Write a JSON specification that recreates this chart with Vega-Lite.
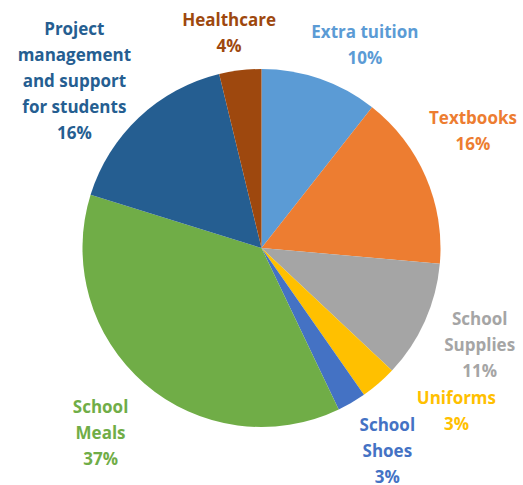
{
  "$schema": "https://vega.github.io/schema/vega-lite/v6.json",
  "autosize": "none",
  "width": 523,
  "height": 474,
  "padding": {"top": 11, "bottom": 0, "left": 0, "right": 0},
  "background": "white",
  "view": {"stroke": null},
  "data": {
    "values": [
      {"idx": 1, "category": "Extra tuition", "value": 10.6, "label": "Extra tuition\n10%"},
      {"idx": 2, "category": "Textbooks", "value": 15.8, "label": "Textbooks\n16%"},
      {"idx": 3, "category": "School Supplies", "value": 10.6, "label": "School\nSupplies\n11%"},
      {"idx": 4, "category": "Uniforms", "value": 3.3, "label": "Uniforms\n3%"},
      {"idx": 5, "category": "School Shoes", "value": 2.6, "label": "School\nShoes\n3%"},
      {"idx": 6, "category": "School Meals", "value": 36.9, "label": "School\nMeals\n37%"},
      {"idx": 7, "category": "Project management and support for students", "value": 16.4, "label": "Project\nmanagement\nand support\nfor students\n16%"},
      {"idx": 8, "category": "Healthcare", "value": 3.8, "label": "Healthcare\n4%"}
    ]
  },
  "encoding": {
    "theta": {"field": "value", "type": "quantitative", "stack": true},
    "order": {"field": "idx", "type": "quantitative"},
    "color": {
      "field": "category",
      "type": "nominal",
      "legend": null,
      "scale": {
        "domain": ["Extra tuition", "Textbooks", "School Supplies", "Uniforms", "School Shoes", "School Meals", "Project management and support for students", "Healthcare"],
        "range": ["#5B9BD5", "#ED7D31", "#A5A5A5", "#FFC000", "#4472C4", "#70AD47", "#255E91", "#9E480E"]
      }
    }
  },
  "layer": [
    {"mark": {"type": "arc", "radius": 179, "strokeWidth": 0}},
    {
      "mark": {"type": "text", "radius": 227, "thetaOffset": 0.14, "dy": -13, "font": "Open Sans", "fontWeight": "bold", "fontSize": 17, "lineBreak": "\n", "lineHeight": 26, "align": "center", "baseline": "middle"},
      "encoding": {"text": {"condition": {"test": "datum.idx === 1", "field": "label"}, "value": ""}}
    },
    {
      "mark": {"type": "text", "radius": 241, "thetaOffset": -0.092, "dy": -13, "font": "Open Sans", "fontWeight": "bold", "fontSize": 17, "lineBreak": "\n", "lineHeight": 26, "align": "center", "baseline": "middle"},
      "encoding": {"text": {"condition": {"test": "datum.idx === 2", "field": "label"}, "value": ""}}
    },
    {
      "mark": {"type": "text", "radius": 239, "dy": -26, "font": "Open Sans", "fontWeight": "bold", "fontSize": 17, "lineBreak": "\n", "lineHeight": 26, "align": "center", "baseline": "middle"},
      "encoding": {"text": {"condition": {"test": "datum.idx === 3", "field": "label"}, "value": ""}}
    },
    {
      "mark": {"type": "text", "radius": 255, "thetaOffset": -0.157, "dy": -13, "font": "Open Sans", "fontWeight": "bold", "fontSize": 17, "lineBreak": "\n", "lineHeight": 26, "align": "center", "baseline": "middle"},
      "encoding": {"text": {"condition": {"test": "datum.idx === 4", "field": "label"}, "value": ""}}
    },
    {
      "mark": {"type": "text", "radius": 240, "thetaOffset": -0.024, "dy": -26, "font": "Open Sans", "fontWeight": "bold", "fontSize": 17, "lineBreak": "\n", "lineHeight": 26, "align": "center", "baseline": "middle"},
      "encoding": {"text": {"condition": {"test": "datum.idx === 5", "field": "label"}, "value": ""}}
    },
    {
      "mark": {"type": "text", "radius": 246, "dy": -26, "font": "Open Sans", "fontWeight": "bold", "fontSize": 17, "lineBreak": "\n", "lineHeight": 26, "align": "center", "baseline": "middle"},
      "encoding": {"text": {"condition": {"test": "datum.idx === 6", "field": "label"}, "value": ""}}
    },
    {
      "mark": {"type": "text", "radius": 250, "thetaOffset": -0.092, "dy": -52, "font": "Open Sans", "fontWeight": "bold", "fontSize": 17, "lineBreak": "\n", "lineHeight": 26, "align": "center", "baseline": "middle"},
      "encoding": {"text": {"condition": {"test": "datum.idx === 7", "field": "label"}, "value": ""}}
    },
    {
      "mark": {"type": "text", "radius": 216, "thetaOffset": -0.031, "dy": -13, "font": "Open Sans", "fontWeight": "bold", "fontSize": 17, "lineBreak": "\n", "lineHeight": 26, "align": "center", "baseline": "middle"},
      "encoding": {"text": {"condition": {"test": "datum.idx === 8", "field": "label"}, "value": ""}}
    }
  ]
}
